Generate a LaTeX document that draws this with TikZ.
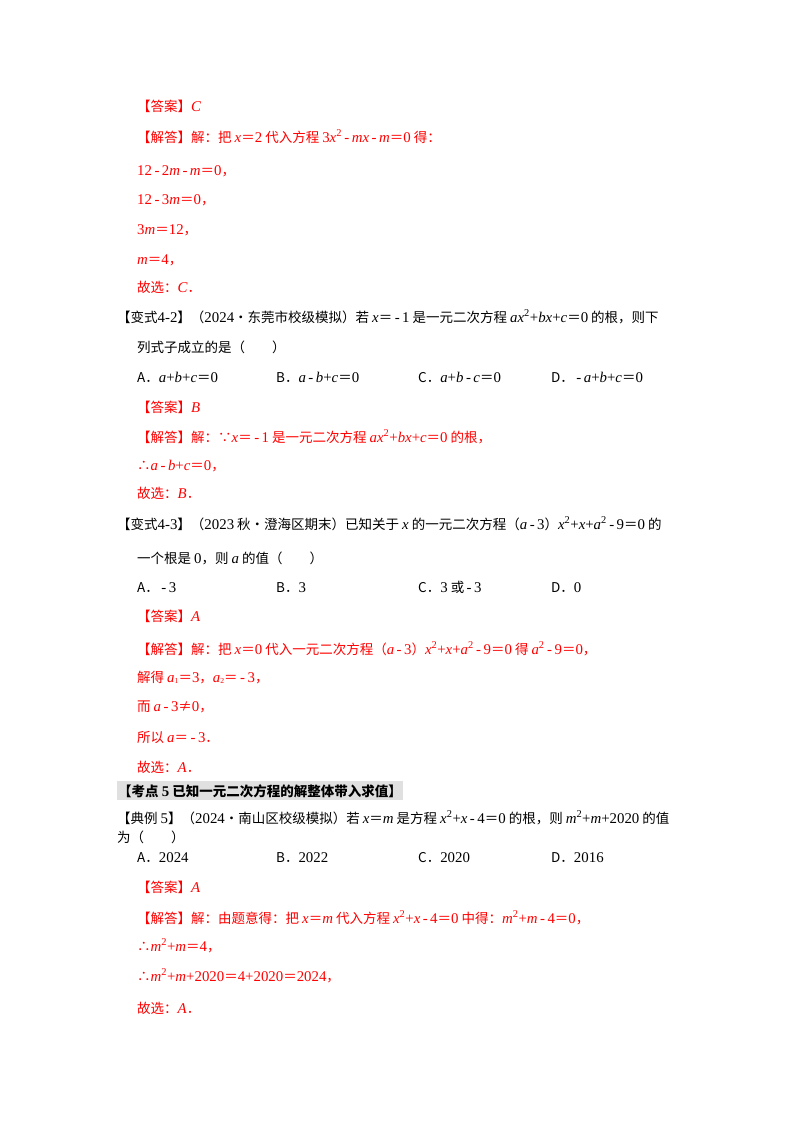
\documentclass[tikz,border=0pt]{standalone}
\usepackage{fontspec}
\setmainfont{Noto Sans CJK SC}
\newfontfamily\en[Scale=1.1]{Liberation Serif}
\newcommand\vv[1]{{\en\itshape #1}}
\newcommand\nn[1]{{\en #1}}
\newcommand\sq{\textsuperscript{\nn{2}}}
\newcommand\sbx[1]{\raisebox{-0.25ex}{\scriptsize\nn{#1}}}
\newcommand\mi{\nn{\,-\,}}
\definecolor{ans}{RGB}{255,0,0}
\begin{document}
\begin{tikzpicture}[x=1pt,y=-1pt,
  t/.style={anchor=base west,inner sep=0pt,font=\fontsize{13.5}{15}\selectfont},
  r/.style={t,text=ans}]
\useasboundingbox (0,0) rectangle (800,1132);
\fill[white] (0,0) rectangle (800,1132);
\node[r] (l1) at (137,111) {【答案】\vv{C}};
\node[r] (l2) at (137,142) {【解答】解：把 \vv{x}＝\nn{2} 代入方程 \nn{3}\vv{x}\sq\mi\vv{mx}\mi\vv{m}＝\nn{0} 得：};
\node[r] (l3) at (137,175) {\nn{12}\mi\nn{2}\vv{m}\mi\vv{m}＝\nn{0}，};
\node[r] (l4) at (137,204) {\nn{12}\mi\nn{3}\vv{m}＝\nn{0}，};
\node[r] (l5) at (137,234) {\nn{3}\vv{m}＝\nn{12}，};
\node[r] (l6) at (137,264) {\vv{m}＝\nn{4}，};
\node[r] (l7) at (137,292) {故选：\vv{C}．};
\node[t] (q2) at (117,322) {【变式\nn{4-2}】（\nn{2024}•东莞市校级模拟）若 \vv{x}＝\mi\nn{1} 是一元二次方程 \vv{ax}\sq\nn{+}\vv{bx}\nn{+}\vv{c}＝\nn{0} 的根，则下};
\node[t] (q2b) at (137,352) {列式子成立的是（\hspace{2em}）};
\node[t] (o1) at (137,382) {A．\vv{a}\nn{+}\vv{b}\nn{+}\vv{c}＝\nn{0}};
\node[t] (o2) at (276,382) {B．\vv{a}\mi\vv{b}\nn{+}\vv{c}＝\nn{0}};
\node[t] (o3) at (418,382) {C．\vv{a}\nn{+}\vv{b}\mi\vv{c}＝\nn{0}};
\node[t] (o4) at (551,382) {D．\mi\vv{a}\nn{+}\vv{b}\nn{+}\vv{c}＝\nn{0}};
\node[r] (a2) at (137,412) {【答案】\vv{B}};
\node[r] (s2) at (137,442) {【解答】解：∵\vv{x}＝\mi\nn{1} 是一元二次方程 \vv{ax}\sq\nn{+}\vv{bx}\nn{+}\vv{c}＝\nn{0} 的根，};
\node[r] (s2b) at (137,470) {∴\vv{a}\mi\vv{b}\nn{+}\vv{c}＝\nn{0}，};
\node[r] (s2c) at (137,498) {故选：\vv{B}．};
\node[t] (q3) at (117,529) {【变式\nn{4-3}】（\nn{2023} 秋•澄海区期末）已知关于 \vv{x} 的一元二次方程（\vv{a}\mi\nn{3}）\vv{x}\sq\nn{+}\vv{x}\nn{+}\vv{a}\sq\mi\nn{9}＝\nn{0} 的};
\node[t] (q3b) at (137,563) {一个根是 \nn{0}，则 \vv{a} 的值（\hspace{2em}）};
\node[t] (p1) at (137,592) {A．\mi\nn{3}};
\node[t] (p2) at (276,592) {B．\nn{3}};
\node[t] (p3) at (418,592) {C．\nn{3} 或\mi\nn{3}};
\node[t] (p4) at (551,592) {D．\nn{0}};
\node[r] (a3) at (137,621) {【答案】\vv{A}};
\node[r] (s3) at (137,654) {【解答】解：把 \vv{x}＝\nn{0} 代入一元二次方程（\vv{a}\mi\nn{3}）\vv{x}\sq\nn{+}\vv{x}\nn{+}\vv{a}\sq\mi\nn{9}＝\nn{0} 得 \vv{a}\sq\mi\nn{9}＝\nn{0}，};
\node[r] (s3b) at (137,682) {解得 \vv{a}\sbx{1}＝\nn{3}，\vv{a}\sbx{2}＝\mi\nn{3}，};
\node[r] (s3c) at (137,711) {而 \vv{a}\mi\nn{3}≠\nn{0}，};
\node[r] (s3d) at (137,742) {所以 \vv{a}＝\mi\nn{3}．};
\node[r] (s3e) at (137,772) {故选：\vv{A}．};
\node[t,font=\fontsize{13.5}{15}\selectfont\bfseries,fill=black!12,inner ysep=3pt,inner xsep=1pt] (h5) at (117,796) {【考点 \nn{\bfseries 5} 已知一元二次方程的解整体带入求值】};
\node[t] (q5) at (117,823) {【典例 \nn{5}】（\nn{2024}•南山区校级模拟）若 \vv{x}＝\vv{m} 是方程 \vv{x}\sq\nn{+}\vv{x}\mi\nn{4}＝\nn{0} 的根，则 \vv{m}\sq\nn{+}\vv{m}\nn{+2020} 的值};
\node[t] (q5b) at (117,842) {为（\hspace{2em}）};
\node[t] (u1) at (137,862) {A．\nn{2024}};
\node[t] (u2) at (276,862) {B．\nn{2022}};
\node[t] (u3) at (418,862) {C．\nn{2020}};
\node[t] (u4) at (551,862) {D．\nn{2016}};
\node[r] (a5) at (137,892) {【答案】\vv{A}};
\node[r] (s5) at (137,923) {【解答】解：由题意得：把 \vv{x}＝\vv{m} 代入方程 \vv{x}\sq\nn{+}\vv{x}\mi\nn{4}＝\nn{0} 中得：\vv{m}\sq\nn{+}\vv{m}\mi\nn{4}＝\nn{0}，};
\node[r] (s5b) at (137,951) {∴\vv{m}\sq\nn{+}\vv{m}＝\nn{4}，};
\node[r] (s5c) at (137,981) {∴\vv{m}\sq\nn{+}\vv{m}\nn{+2020}＝\nn{4+2020}＝\nn{2024}，};
\node[r] (s5d) at (137,1013) {故选：\vv{A}．};
\end{tikzpicture}
\end{document}
